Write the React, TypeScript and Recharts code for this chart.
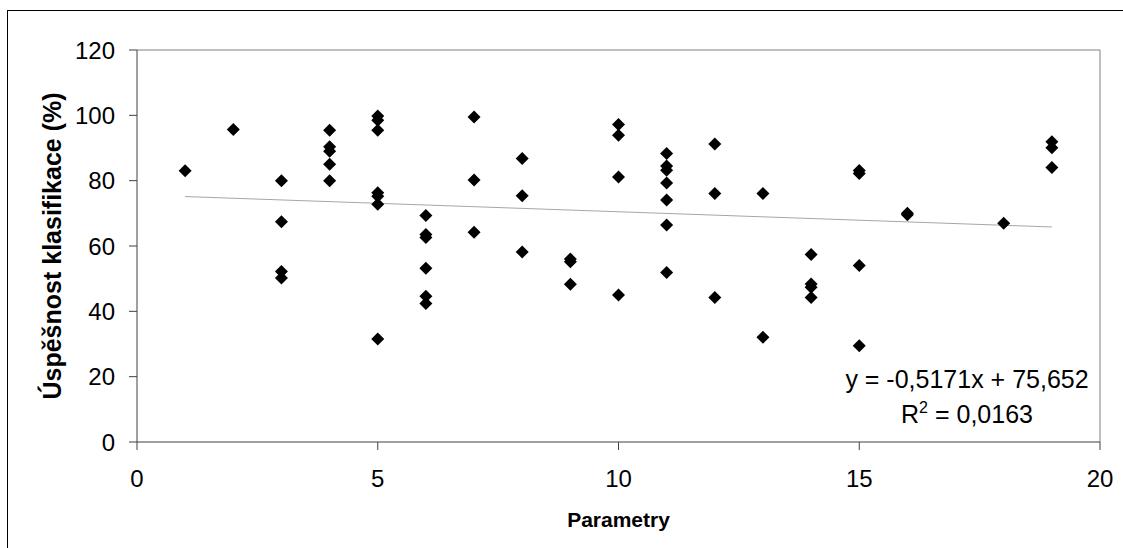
import React from 'react';
import {
  ScatterChart,
  Scatter,
  XAxis,
  YAxis,
  ReferenceLine,
} from 'recharts';

// parametry (x) a úspěšnost klasifikace v % (y)
const parametry = [
  1,
  2,
  3, 3, 3, 3,
  4, 4, 4, 4, 4,
  5, 5, 5, 5, 5, 5, 5,
  6, 6, 6, 6, 6, 6,
  7, 7, 7,
  8, 8, 8,
  9, 9, 9,
  10, 10, 10, 10,
  11, 11, 11, 11, 11, 11, 11,
  12, 12, 12,
  13, 13,
  14, 14, 14, 14,
  15, 15, 15, 15,
  16, 16,
  18,
  19, 19, 19,
];
const uspesnost = [
  83,
  95.7,
  80, 67.4, 52.2, 50.2,
  95.4, 90.4, 89, 85, 80,
  99.8, 98.5, 95.4, 76.3, 75.2, 72.8, 31.5,
  69.3, 63.5, 62.6, 53.2, 44.6, 42.4,
  99.5, 80.2, 64.2,
  86.8, 75.4, 58.2,
  56, 55.2, 48.3,
  97.2, 93.9, 81.1, 45,
  88.3, 84.5, 83.2, 79.3, 74.1, 66.4, 51.9,
  91.2, 76.1, 44.2,
  76.1, 32.1,
  57.4, 48.4, 47.4, 44.2,
  83.1, 82.2, 54, 29.5,
  70, 69.6,
  67,
  91.9, 90.1, 84,
];

const xTicks = [0, 5, 10, 15, 20];
const yTicks = [0, 20, 40, 60, 80, 100, 120];

// lineární trend z Excelu
const trendSlope = -0.5171;
const trendIntercept = 75.652;
const trendR2 = '0,0163';
const trendRange = [1, 19];

const points = parametry.map((x, i) => ({ x, y: uspesnost[i] }));
const trendData = trendRange.map(x => ({ x, y: trendSlope * x + trendIntercept }));

const FONT = '"Liberation Sans", Arial, sans-serif';

const Diamond = (props: any) => {
  const { cx, cy } = props;
  const s = 6.5;
  return (
    <path
      d={`M${cx},${cy - s}L${cx + s},${cy}L${cx},${cy + s}L${cx - s},${cy}Z`}
      fill="#000"
    />
  );
};

const YTitle = (props: any) => {
  const { viewBox } = props;
  const cy = viewBox.y + viewBox.height / 2;
  const x = 53;
  return (
    <text
      x={x}
      y={cy}
      transform={`rotate(-90 ${x} ${cy})`}
      textAnchor="middle"
      fontFamily={FONT}
      fontWeight="bold"
      fontSize={25}
      fill="#000"
    >
      Úspěšnost klasifikace (%)
    </text>
  );
};

const XTitle = (props: any) => {
  const { viewBox } = props;
  return (
    <text
      x={viewBox.x + viewBox.width / 2}
      y={516}
      textAnchor="middle"
      fontFamily={FONT}
      fontWeight="bold"
      fontSize={21}
      fill="#000"
    >
      Parametry
    </text>
  );
};

const fmt = (v: number) => v.toString().replace('.', ',');

export default function App() {
  return (
    <div
      style={{
        position: 'absolute',
        left: 7,
        top: 10,
        width: 1116,
        height: 538,
        borderLeft: '1px solid #000',
        borderTop: '1px solid #000',
        background: '#fff',
      }}
    >
      <ScatterChart
        width={1115}
        height={537}
        margin={{ top: 39, right: 23, bottom: 46, left: 29 }}
        style={{ fontFamily: FONT }}
      >
        <XAxis
          dataKey="x"
          type="number"
          domain={[0, 20]}
          ticks={xTicks}
          height={60}
          stroke="#404040"
          tickSize={8}
          tickMargin={20}
          tick={{ fill: '#000', fontSize: 24 }}
          label={{ content: <XTitle /> }}
        />
        <YAxis
          dataKey="y"
          type="number"
          domain={[0, 120]}
          ticks={yTicks}
          width={100}
          stroke="#404040"
          tickSize={8}
          tickMargin={14}
          tick={{ fill: '#000', fontSize: 24 }}
          label={{ content: <YTitle /> }}
        />
        <ReferenceLine y={120} stroke="#808080" strokeWidth={1} />
        <ReferenceLine x={20} stroke="#808080" strokeWidth={1} />
        <Scatter
          data={trendData}
          line={{ stroke: '#a6a6a6', strokeWidth: 1 }}
          shape={() => <g />}
          isAnimationActive={false}
        />
        <Scatter
          data={points}
          shape={<Diamond />}
          isAnimationActive={false}
        />
        <text
          x={959}
          y={377}
          textAnchor="middle"
          fontFamily={FONT}
          fontSize={25}
          fill="#000"
        >
          {`y = ${fmt(trendSlope)}x + ${fmt(trendIntercept)}`}
        </text>
        <text
          x={959}
          y={412}
          textAnchor="middle"
          fontFamily={FONT}
          fontSize={25}
          fill="#000"
        >
          R<tspan dy={-10} fontSize={16}>2</tspan>
          <tspan dy={10}>{` = ${trendR2}`}</tspan>
        </text>
      </ScatterChart>
    </div>
  );
}
